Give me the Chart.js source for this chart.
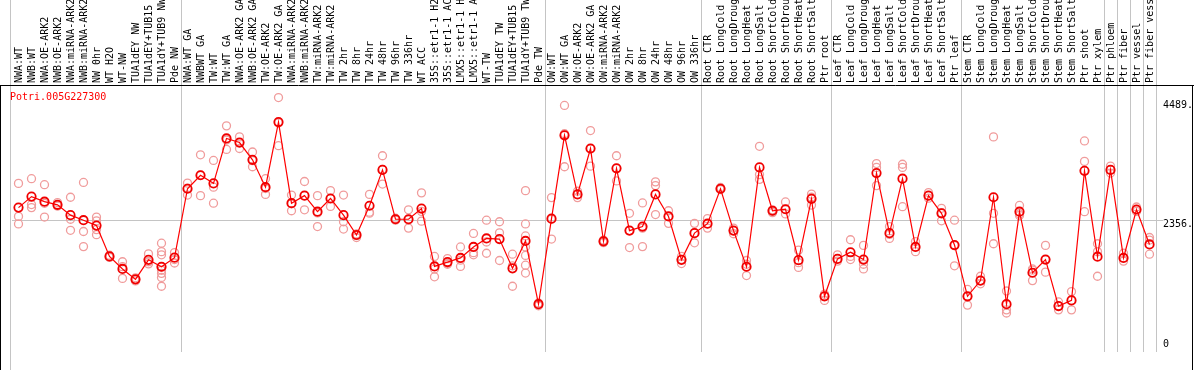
<!DOCTYPE html>
<html>
<head>
<meta charset="utf-8">
<script src="https://cdn.jsdelivr.net/npm/chart.js@4.4.1/dist/chart.umd.min.js"></script>
<style>
  html, body { margin: 0; padding: 0; background: #fff; }
  canvas { display: block; }
</style>
</head>
<body>
<canvas id="exprChart" width="1194" height="370"></canvas>
<script>
const geneName = 'Potri.005G227300';

const categories = [
  'NWA:WT', 'NWB:WT', 'NWA:OE-ARK2', 'NWB:OE-ARK2', 'NWA:miRNA-ARK2', 'NWB:miRNA-ARK2',
  'NW 0hr', 'WT H2O', 'WT-NW', 'TUA1dEY NW', 'TUA1dEY+TUB15 NW', 'TUA1dY+TUB9 NW', 'Pde NW',
  'NWA:WT GA', 'NWBWT GA', 'TW:WT', 'TW:WT GA', 'NWA:OE-ARK2 GA', 'NWB:OE-ARK2 GA',
  'TW:OE-ARK2', 'TW:OE-ARK2 GA', 'NWA:miRNA-ARK2 GA', 'NWB:miRNA-ARK2 GA', 'TW:miRNA-ARK2', 'TW:miRNA-ARK2',
  'TW 2hr', 'TW 8hr', 'TW 24hr', 'TW 48hr', 'TW 96hr', 'TW 336hr', 'WT ACC',
  '35S::etr1-1 H2O', '35S::etr1-1 ACC', 'LMX5::etr1-1 H2O', 'LMX5::etr1-1 ACC',
  'WT-TW', 'TUA1dEY TW', 'TUA1dEY+TUB15 TW', 'TUA1dY+TUB9 TW', 'Pde TW',
  'OW:WT', 'OW:WT GA', 'OW:OE-ARK2', 'OW:OE-ARK2 GA', 'OW:miRNA-ARK2', 'OW:miRNA-ARK2',
  'OW 2hr', 'OW 8hr', 'OW 24hr', 'OW 48hr', 'OW 96hr', 'OW 336hr',
  'Root CTR', 'Root LongCold', 'Root LongDrought', 'Root LongHeat', 'Root LongSalt',
  'Root ShortCold', 'Root ShortDrought', 'Root ShortHeat', 'Root ShortSalt', 'Ptr root',
  'Leaf CTR', 'Leaf LongCold', 'Leaf LongDrought', 'Leaf LongHeat', 'Leaf LongSalt',
  'Leaf ShortCold', 'Leaf ShortDrought', 'Leaf ShortHeat', 'Leaf ShortSalt', 'Ptr leaf',
  'Stem CTR', 'Stem LongCold', 'Stem LongDrought', 'Stem LongHeat', 'Stem LongSalt',
  'Stem ShortCold', 'Stem ShortDrought', 'Stem ShortHeat', 'Stem ShortSalt', 'Ptr shoot', 'Ptr xylem',
  'Ptr phloem', 'Ptr fiber', 'Ptr vessel', 'Ptr fiber vessel'
];

const meanValues = [
  2580, 2777, 2686, 2630, 2445, 2355, 2259, 1708, 1484, 1298, 1647, 1523, 1686,
  2917, 3158, 3013, 3816, 3743, 3434, 2945, 4109, 2659, 2794, 2507, 2743,
  2445, 2091, 2613, 3254, 2372, 2372, 2563, 1529, 1607, 1681, 1877,
  2029, 2018, 1495, 1984, 854,
  2383, 3872, 2816, 3636, 1978, 3282, 2169, 2242, 2816, 2422, 1647, 2124,
  2293, 2917, 2169, 1523, 3299, 2524, 2551, 1641, 2737, 995,
  1664, 1782, 1652, 3198, 2124, 3097, 1877, 2794, 2478, 1911,
  995, 1276, 2765, 854, 2507, 1416, 1652, 821, 922, 3237, 1703,
  3254, 1681, 2546, 1922
];

// individual replicate values per category
const replicates = [
  [3013, 2423, 2288], [3097, 2635, 2580], [2990, 2411, 2657], [2670, 2610, 2610],
  [2765, 2372, 2175], [3030, 2153, 1883], [2411, 2344, 2187, 2096], [1700, 1690, 1730],
  [1613, 1524, 1315], [1298, 1270, 1326], [1753, 1613, 1575],
  [1944, 1793, 1737, 1515, 1461, 1405, 1332, 1175], [1776, 1652, 1590],
  [3018, 2929, 2804], [3524, 3158, 2794], [3423, 2945, 2659], [4041, 3787, 3620],
  [3844, 3743, 3636], [3574, 3420, 3310], [3097, 2922, 2816], [4547, 4093, 3687],
  [2804, 2649, 2524], [3047, 2794, 2541], [2794, 2485, 2242], [2883, 2743, 2602],
  [2804, 2327, 2197], [2110, 2080, 2045], [2816, 2498, 2480], [3507, 3265, 3001],
  [2390, 2370, 2355], [2541, 2361, 2214], [2844, 2512, 2338], [1708, 1484, 1344],
  [1669, 1584, 1568], [1877, 1640, 1529], [2119, 1775, 1737],
  [2355, 1966, 1765], [2327, 2130, 1635], [1748, 1540, 1175],
  [2883, 2288, 2074, 1877, 1725, 1551, 1411], [877, 843, 826],
  [2759, 2372, 2018], [4406, 3900, 3310], [2872, 2816, 2759], [3957, 3630, 3321],
  [2000, 1978, 1955], [3507, 3282, 3057], [2478, 2169, 1866], [2664, 2214, 1883],
  [3040, 2973, 2456], [2524, 2422, 2299], [1708, 1653, 1580], [2299, 2124, 1951],
  [2383, 2293, 2214], [2940, 2917, 2900], [2214, 2169, 2113], [1635, 1568, 1366],
  [3675, 3170, 3085], [2540, 2507, 2490], [2681, 2551, 2467], [1821, 1596, 1512],
  [2821, 2765, 2625], [1034, 995, 922],
  [1737, 1664, 1624], [2006, 1708, 1652], [1905, 1568, 1484], [3367, 3299, 2973],
  [2242, 2102, 2029], [3355, 3299, 2596], [1973, 1877, 1793], [2849, 2794, 2748],
  [2568, 2490, 2344], [2355, 1900, 1540],
  [1118, 995, 838], [1354, 1276, 1219], [3844, 2478, 1934], [1090, 753, 697],
  [2619, 2467, 2440], [1484, 1462, 1276], [1905, 1652, 1427], [894, 821, 753],
  [1079, 922, 753], [3771, 3406, 2507], [1934, 1793, 1354],
  [3321, 3254, 3198], [1765, 1681, 1624], [2591, 2546, 2512], [2046, 2000, 1748]
];

const yTicks = [0, 2356, 4489];
const yTickLabels = ['0', '2356.', '4489.'];
const yMax = 4771;

// index of first category after each separator line
const groupStarts = [13, 41, 53, 63, 73, 84, 85, 86, 87];

const monoFont = { family: 'DejaVu Sans Mono', size: 10 };

function sepColor(ctx) {
  if (ctx.type !== 'tick') return '#c4c4c4';   // closing line at the right end
  return groupStarts.includes(ctx.index) ? '#c4c4c4' : 'rgba(0,0,0,0)';
}

const maxReps = Math.max(...replicates.map(r => r.length));
const repDatasets = [];
for (let k = 0; k < maxReps; k++) {
  repDatasets.push({
    label: 'rep ' + (k + 1),
    data: replicates.map(r => (r[k] === undefined ? null : r[k])),
    showLine: false,
    pointRadius: 4,
    pointBorderWidth: 1.3,
    pointBorderColor: '#f09c9c',
    pointBackgroundColor: 'rgba(0,0,0,0)',
    order: 1
  });
}

const framePlugin = {
  id: 'frame',
  beforeDraw(chart) {
    const { ctx } = chart;
    ctx.save();
    ctx.fillStyle = '#fff';
    ctx.fillRect(0, 0, chart.width, chart.height);
    ctx.restore();
  },
  afterDraw(chart) {
    const { ctx, chartArea } = chart;
    const w = chart.width, h = chart.height;
    ctx.save();
    ctx.lineWidth = 1;
    ctx.strokeStyle = '#c4c4c4';
    ctx.beginPath();
    ctx.moveTo(10.5, 0);
    ctx.lineTo(10.5, h);
    ctx.stroke();

    ctx.strokeStyle = '#000';
    ctx.beginPath();
    ctx.moveTo(0, chartArea.top + 0.5);
    ctx.lineTo(w, chartArea.top + 0.5);
    ctx.moveTo(0.5, chartArea.top);
    ctx.lineTo(0.5, h);
    ctx.moveTo(w - 1.5, chartArea.top);
    ctx.lineTo(w - 1.5, h);
    ctx.stroke();

    ctx.font = '10px "DejaVu Sans Mono"';
    ctx.fillStyle = '#ff0000';
    ctx.textBaseline = 'top';
    ctx.fillText(geneName, 10, chartArea.top + 7);
    ctx.restore();
  }
};

new Chart(document.getElementById('exprChart'), {
  type: 'line',
  data: {
    labels: categories,
    datasets: [{
      label: geneName,
      data: meanValues,
      borderColor: '#ff0000',
      borderWidth: 1.2,
      tension: 0,
      pointRadius: 4.2,
      pointBorderWidth: 1.8,
      pointBorderColor: '#f00000',
      pointBackgroundColor: 'rgba(0,0,0,0)',
      order: 0
    }].concat(repDatasets)
  },
  options: {
    responsive: false,
    animation: false,
    layout: { padding: { left: 12, right: 0, top: 0, bottom: 2 } },
    plugins: {
      legend: { display: false },
      tooltip: { enabled: false }
    },
    scales: {
      x: {
        type: 'category',
        position: 'top',
        offset: true,
        border: { display: false },
        grid: {
          offset: true,
          drawTicks: true,
          tickLength: 85,
          color: sepColor,
          tickColor: sepColor
        },
        ticks: {
          autoSkip: false,
          minRotation: 90,
          maxRotation: 90,
          padding: -83,
          labelOffset: 13,
          color: '#000',
          font: monoFont
        },
        afterFit(scale) { scale.height = 85; }
      },
      y: {
        position: 'right',
        min: 0,
        max: yMax,
        border: { display: false },
        afterBuildTicks(scale) {
          scale.ticks = yTicks.map(v => ({ value: v }));
        },
        grid: {
          drawTicks: true,
          tickLength: 7,
          color: ctx => (ctx.tick && ctx.tick.value === 2356 ? '#c4c4c4' : 'rgba(0,0,0,0)'),
          tickColor: ctx => (ctx.tick && ctx.tick.value === 2356 ? '#c4c4c4' : 'rgba(0,0,0,0)')
        },
        ticks: {
          padding: 0,
          labelOffset: 4.5,
          color: '#000',
          font: monoFont,
          callback: (value, index) => (value === 0 ? [yTickLabels[index], '', ''] : yTickLabels[index])
        },
        afterFit(scale) { scale.width = 38; }
      }
    }
  },
  plugins: [framePlugin]
});
</script>
</body>
</html>
